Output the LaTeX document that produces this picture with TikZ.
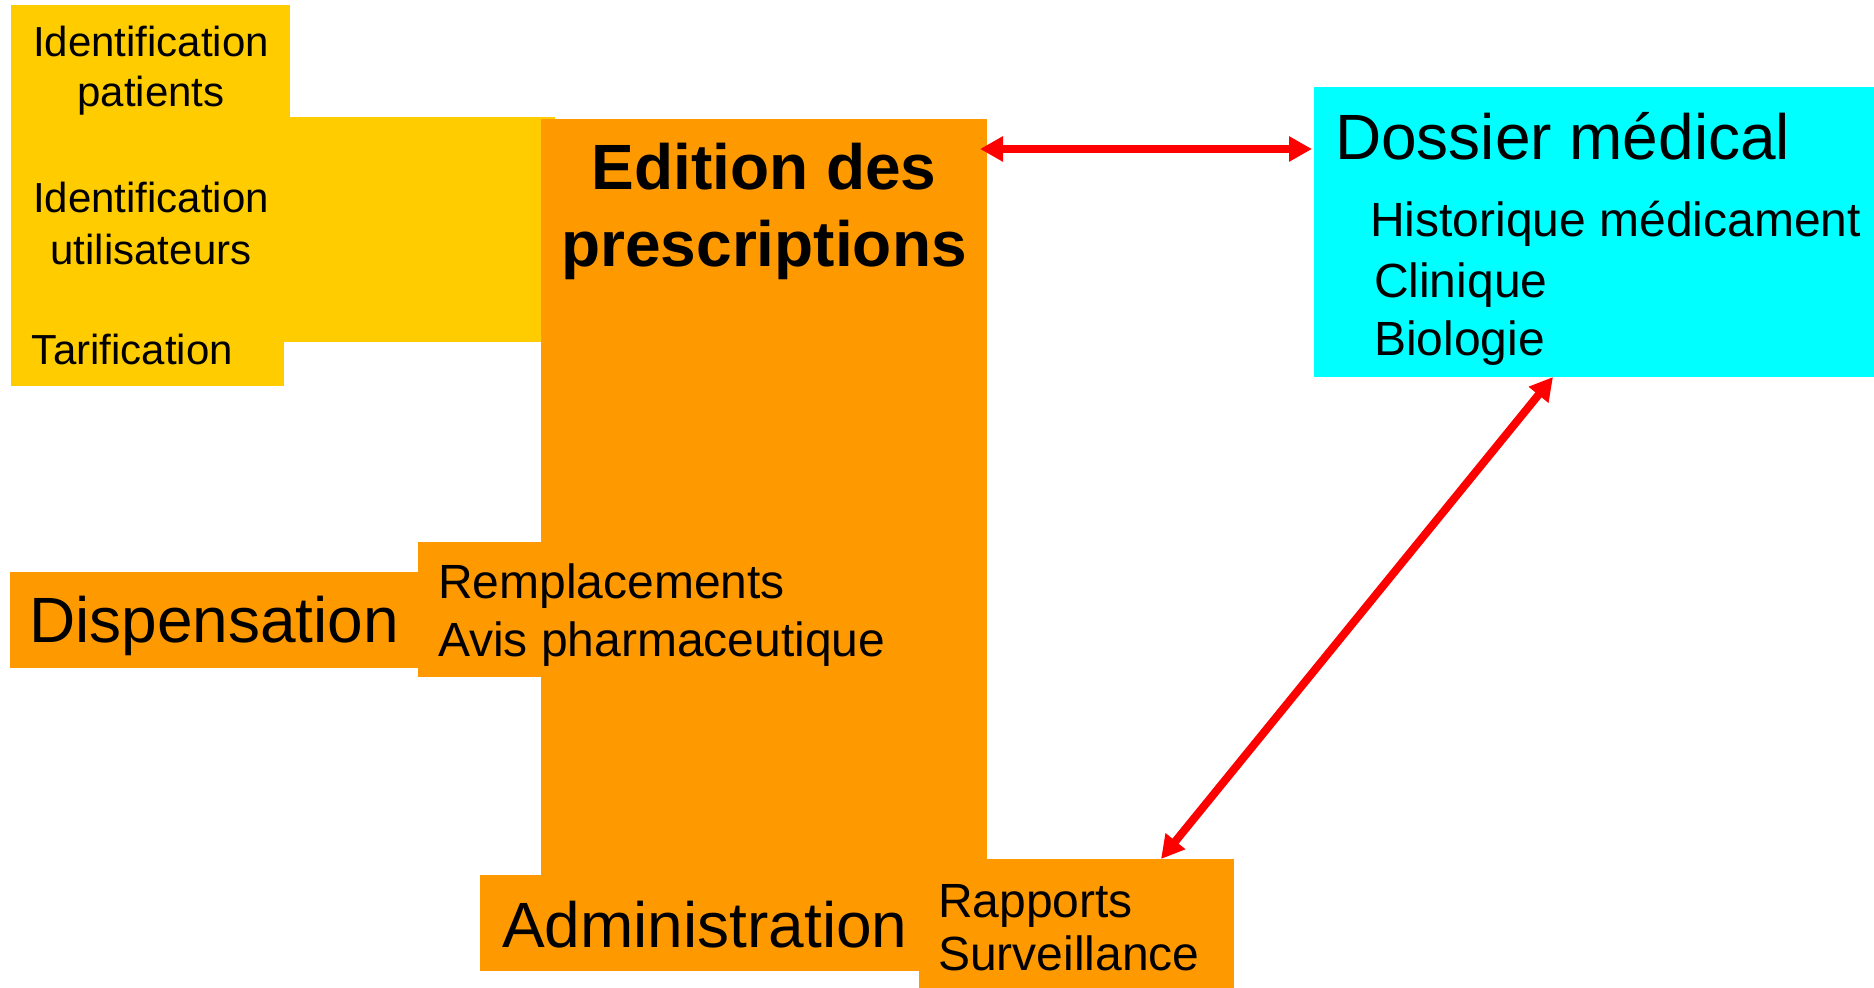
\documentclass[tikz,border=0pt]{standalone}
\usepackage{fontspec}
\setmainfont{Liberation Sans}
\usetikzlibrary{fit,arrows.meta}
\definecolor{cyel}{HTML}{FFCC00}
\definecolor{corg}{HTML}{FF9900}
\definecolor{ccyan}{HTML}{00FFFF}
\definecolor{cred}{HTML}{FF0000}
\tikzset{
  box/.style={inner sep=0pt, outer sep=0pt, draw=none},
  ybox/.style={box, fill=cyel},
  obox/.style={box, fill=corg},
  cbox/.style={box, fill=ccyan},
  txt/.style={inner sep=0pt, outer sep=0pt, anchor=base},
  txtl/.style={inner sep=0pt, outer sep=0pt, anchor=base west},
  small/.style={font=\fontsize{21}{25}\selectfont},
  mid/.style={font=\fontsize{24}{29}\selectfont},
  big/.style={font=\fontsize{32}{38}\selectfont},
  bigb/.style={font=\fontsize{32}{38}\selectfont\bfseries},
  redarr/.style={draw=cred, line width=4pt,
    {Triangle[length=11.5pt,width=12pt]}-{Triangle[length=11.5pt,width=12pt]}}
}
\begin{document}
\begin{tikzpicture}[x=0.5pt,y=-0.5pt]
\useasboundingbox (0,0) rectangle (1874,988);
% yellow boxes
\node[ybox, fit={(11,5) (290,127)}] (patients) {};
\node[ybox, fit={(11,117) (555,342)}] (ybig) {};
\node[ybox, fit={(11,163) (290,283)}] (users) {};
\node[ybox, fit={(11,313) (284,386)}] (tarif) {};
% orange boxes
\node[obox, fit={(541,119) (987,875)}] (edition) {};
\node[obox, fit={(418,542) (760,677)}] (rempl) {};
\node[obox, fit={(10,572) (418,668)}] (disp) {};
\node[obox, fit={(480,875) (919,971)}] (admin) {};
\node[obox, fit={(919,859) (1234,988)}] (rapports) {};
% cyan box
\node[cbox, fit={(1314,87) (1874,377)}] (dossier) {};
% texts
\node[txt, small] (tp1) at (151,57) {Identification};
\node[txt, small] (tp2) at (151,107) {patients};
\node[txt, small] (tu1) at (151,213) {Identification};
\node[txt, small] (tu2) at (151,265) {utilisateurs};
\node[txtl, small] (tt) at (32,365) {Tarification};
\node[txt, bigb] (te1) at (764,190) {Edition des};
\node[txt, bigb] (te2) at (764,267) {prescriptions};
\node[txtl, big] (td) at (1335,160) {Dossier médical};
\node[txtl, mid] (td1) at (1370,237) {Historique médicament};
\node[txtl, mid] (td2) at (1374,298) {Clinique};
\node[txtl, mid] (td3) at (1374,356) {Biologie};
\node[txtl, big] (tdisp) at (29,643) {Dispensation};
\node[txtl, mid] (tr1) at (438,599) {Remplacements};
\node[txtl, mid] (tr2) at (438,656) {Avis pharmaceutique};
\node[txtl, big] (tadm) at (502,947) {Administration};
\node[txtl, mid] (tra1) at (938,917) {Rapports};
\node[txtl, mid] (tra2) at (938,970) {Surveillance};
% arrows
\draw[redarr, shorten <=-3.5pt, shorten >=1pt] (edition.east |- 0,149) -- (dossier.west |- 0,149);
\draw[redarr] (dossier.south -| 1553,0) -- (rapports.north -| 1161,0);
\end{tikzpicture}
\end{document}
